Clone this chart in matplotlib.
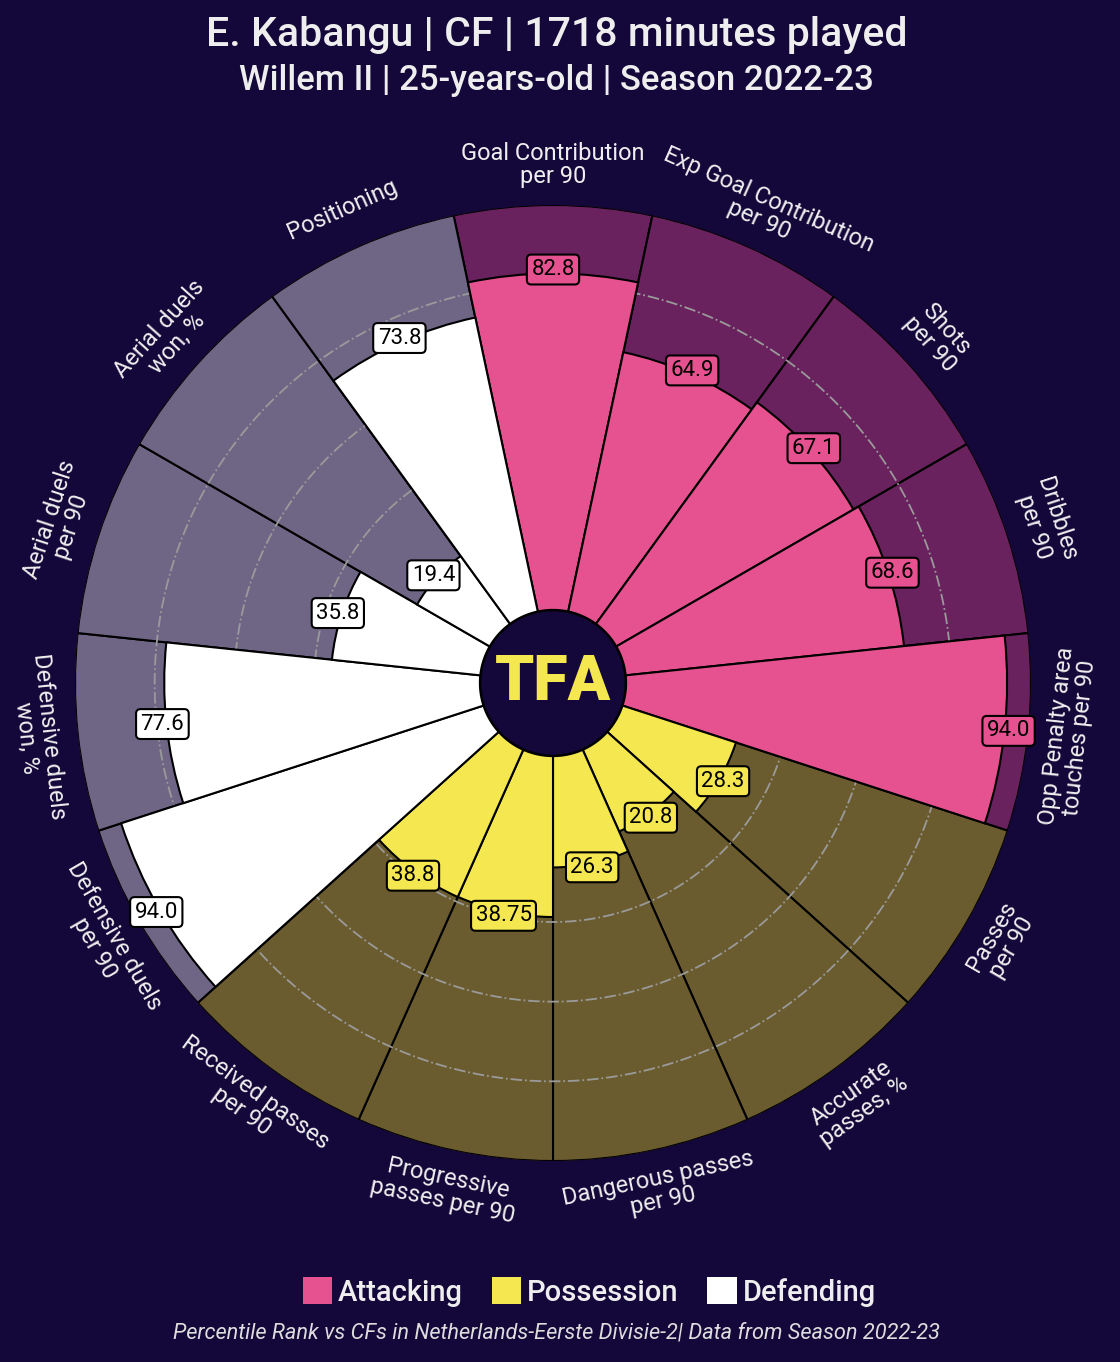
import numpy as np
import matplotlib
matplotlib.use("Agg")
import matplotlib.pyplot as plt
from matplotlib.patches import Patch

# data
params = ["Goal Contribution\nper 90", "Exp Goal Contribution\nper 90", "Shots\nper 90",
          "Dribbles\nper 90", "Opp Penalty area\ntouches per 90", "Passes\nper 90",
          "Accurate\npasses, %", "Dangerous passes\nper 90", "Progressive\npasses per 90",
          "Received passes\nper 90", "Defensive duels\nper 90", "Defensive duels\nwon, %",
          "Aerial duels\nper 90", "Aerial duels\nwon, %", "Positioning"]
values = [82.8, 64.9, 67.1, 68.6, 94.0, 28.3, 20.8, 26.3, 38.75, 38.8, 94.0, 77.6, 35.8, 19.4, 73.8]
value_labels = ["82.8", "64.9", "67.1", "68.6", "94.0", "28.3", "20.8", "26.3", "38.75",
                "38.8", "94.0", "77.6", "35.8", "19.4", "73.8"]
groups = ["Attacking"] * 5 + ["Possession"] * 5 + ["Defending"] * 5

BG = "#14073A"
slice_col = {"Attacking": "#E5528F", "Possession": "#F4E74F", "Defending": "#FFFFFF"}
back_col = {"Attacking": "#69225E", "Possession": "#6B5C2F", "Defending": "#6F6686"}
TXT = "#EEEEEE"
INNER = 20

plt.rcParams["font.family"] = ["Roboto", "DejaVu Sans"]

fig = plt.figure(figsize=(11.2, 13.62), dpi=100, facecolor=BG)
ax = fig.add_axes([75 / 1120, 201 / 1362, 956 / 1120, 956 / 1362], projection="polar")
ax.set_facecolor(BG)
ax.set_theta_zero_location("N")
ax.set_theta_direction(-1)
ax.set_ylim(0, 100 + INNER)
ax.axis("off")

n = len(params)
width = 2 * np.pi / n
theta = np.arange(n) * width

# background slices
ax.bar(theta, [100 + INNER] * n, width=width, bottom=0,
       color=[back_col[g] for g in groups], edgecolor="black", linewidth=1.5, zorder=1)

# grid circles
t = np.linspace(0, 2 * np.pi, 500)
for v in [40, 60, 80]:
    ax.plot(t, np.full_like(t, v + INNER), color="#9A9A9A", ls="-.", lw=1.3, zorder=2)

# value bars
ax.bar(theta, [v + INNER for v in values], width=width, bottom=0,
       color=[slice_col[g] for g in groups], edgecolor="black", linewidth=1.5, zorder=3)

# value labels
for th, v, lab, g in zip(theta, values, value_labels, groups):
    ax.text(th, v + INNER + 1, lab, ha="center", va="center", fontsize=16, color="black",
            zorder=6, bbox=dict(boxstyle="round,pad=0.2", fc=slice_col[g], ec="black", lw=1.5))

# parameter labels
for th, p in zip(theta, params):
    rot = (-np.degrees(th) + 180) % 360 - 180
    if rot < -90 or rot > 90:
        rot += 180
    ax.text(th, 130, p, ha="center", va="center", rotation=rot, rotation_mode="anchor",
            fontsize=17, color=TXT, linespacing=1.0, zorder=6)

# inner circle with logo
ax.fill(t, np.full_like(t, 18.3), color=BG, edgecolor="black", lw=1.8, zorder=5)
ax.text(0, 0, "TFA", ha="center", va="center", fontsize=45, fontweight="black",
        color="#F4E74F", zorder=7)

# titles
fig.text(0.497, 0.974, "E. Kabangu | CF | 1718 minutes played", ha="center", va="center",
         fontsize=29.5, color=TXT, fontweight="medium")
fig.text(0.497, 0.941, "Willem II | 25-years-old | Season 2022-23", ha="center", va="center",
         fontsize=25, color=TXT, fontweight="medium")

handles = [Patch(facecolor=slice_col[k], edgecolor="none") for k in ["Attacking", "Possession", "Defending"]]
leg = fig.legend(handles, ["Attacking", "Possession", "Defending"], loc="center",
                 bbox_to_anchor=(0.526, 0.0514), ncol=3, frameon=False, fontsize=21,
                 handlelength=1.0, handleheight=1.0, handletextpad=0.2, columnspacing=1.0)
for txt in leg.get_texts():
    txt.set_color(TXT)
    txt.set_fontweight("medium")

fig.text(0.497, 0.0213, "Percentile Rank vs CFs in Netherlands-Eerste Divisie-2| Data from Season 2022-23",
         ha="center", va="center", fontsize=15.7, color="#DDDDDD", style="italic")

fig.savefig("out.png", dpi=100, facecolor=BG)
